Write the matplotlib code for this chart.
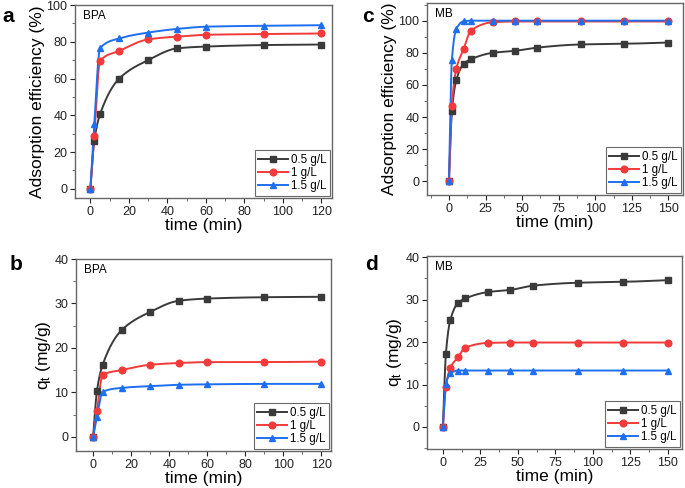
import numpy as np
import matplotlib
matplotlib.use("Agg")
import matplotlib.pyplot as plt
from matplotlib.ticker import MultipleLocator, AutoMinorLocator

plt.rcParams['font.family'] = ['Liberation Sans', 'DejaVu Sans']
plt.rcParams['mathtext.fontset'] = 'custom'
plt.rcParams['mathtext.rm'] = 'Liberation Sans'
plt.rcParams['mathtext.it'] = 'Liberation Sans'

# ---- data ----
labels = ["0.5 g/L", "1 g/L", "1.5 g/L"]
colors = ["#3a3a3a", "#f23a3a", "#1e6ff0"]
markers = ["s", "o", "^"]

t_bpa = [0, 2, 5, 15, 30, 45, 60, 90, 120]
eff_bpa_05 = [0, 26, 40.5, 60, 70, 76.4, 77.4, 78.2, 78.5]
eff_bpa_1 = [0, 28.6, 69.5, 75, 81.3, 82.8, 83.8, 84.2, 84.5]
eff_bpa_15 = [0, 35, 76.4, 81.8, 85, 87, 88.2, 88.7, 89]

t_mb = [0, 2, 5, 10, 15, 30, 45, 60, 90, 120, 150]
eff_mb_05 = [0, 43.5, 63, 73, 76, 80, 81.2, 83.2, 85.2, 85.6, 86.4]
eff_mb_1 = [0, 47.2, 70, 82.2, 93.8, 99, 99.5, 99.5, 99.5, 99.5, 99.5]
eff_mb_15 = [0, 75.6, 94.8, 99.6, 100, 100, 100, 100, 100, 100, 100]

qt_bpa_05 = [0, 10.3, 16.2, 24, 28.1, 30.6, 31.1, 31.4, 31.5]
qt_bpa_1 = [0, 5.8, 13.9, 15, 16.2, 16.6, 16.8, 16.8, 16.9]
qt_bpa_15 = [0, 4.5, 10.1, 11, 11.4, 11.7, 11.8, 11.9, 11.9]

qt_mb_05 = [0, 17.3, 25.3, 29.2, 30.3, 31.8, 32.3, 33.3, 34.0, 34.2, 34.6]
qt_mb_1 = [0, 9.5, 14, 16.4, 18.7, 19.8, 19.9, 19.9, 19.9, 19.9, 19.9]
qt_mb_15 = [0, 10.1, 12.6, 13.3, 13.3, 13.3, 13.3, 13.3, 13.3, 13.3, 13.3]


def pchip(x, y, xn):
    x = np.asarray(x, float); y = np.asarray(y, float)
    h = np.diff(x); d = np.diff(y) / h
    n = len(x); m = np.zeros(n)
    for k in range(1, n - 1):
        if d[k - 1] * d[k] > 0:
            w1 = 2 * h[k] + h[k - 1]; w2 = h[k] + 2 * h[k - 1]
            m[k] = (w1 + w2) / (w1 / d[k - 1] + w2 / d[k])
    m[0] = d[0]; m[-1] = d[-1]
    idx = np.clip(np.searchsorted(x, xn) - 1, 0, n - 2)
    hh = h[idx]; s = (xn - x[idx]) / hh
    h00 = 2 * s**3 - 3 * s**2 + 1; h10 = s**3 - 2 * s**2 + s
    h01 = -2 * s**3 + 3 * s**2; h11 = s**3 - s**2
    return h00 * y[idx] + h10 * hh * m[idx] + h01 * y[idx + 1] + h11 * hh * m[idx + 1]


fig = plt.figure(figsize=(6.85, 4.88), dpi=100)
W, H = 685, 488

def make_ax(l, r, t, b):
    return fig.add_axes([l / W, 1 - b / H, (r - l) / W, (b - t) / H])

panels = [
    dict(box=(75, 332, 5, 198), t=t_bpa, ys=[eff_bpa_05, eff_bpa_1, eff_bpa_15],
         xlim=(-8, 125.5), ylim=(-5, 100), xmaj=20, ymaj=20, name="BPA",
         ylabel="Adsorption efficiency (%)", letter="a", lpos=(2, 16)),
    dict(box=(427, 683, 3, 195), t=t_mb, ys=[eff_mb_05, eff_mb_1, eff_mb_15],
         xlim=(-15, 160), ylim=(-8.5, 111), xmaj=25, ymaj=20, name="MB",
         ylabel="Adsorption efficiency (%)", letter="c", lpos=(362, 16)),
    dict(box=(76, 331, 259, 451), t=t_bpa, ys=[qt_bpa_05, qt_bpa_1, qt_bpa_15],
         xlim=(-9, 125), ylim=(-3.2, 40), xmaj=20, ymaj=10, name="BPA",
         ylabel="q$_{t}$ (mg/g)", letter="b", lpos=(10, 265)),
    dict(box=(427, 682, 256, 449), t=t_mb, ys=[qt_mb_05, qt_mb_1, qt_mb_15],
         xlim=(-10.6, 159.4), ylim=(-5.2, 40.3), xmaj=25, ymaj=10, name="MB",
         ylabel="q$_{t}$ (mg/g)", letter="d", lpos=(365, 265)),
]

for p in panels:
    ax = make_ax(*p["box"])
    tt = np.asarray(p["t"], float)
    xs = np.linspace(tt[0], tt[-1], 600)
    for y, c, mk, lab in zip(p["ys"], colors, markers, labels):
        ax.plot(xs, pchip(tt, y, xs), color=c, lw=1.4, zorder=2)
        ax.plot(tt, y, linestyle="none", marker=mk, color=c, ms=4.8, zorder=3)
        ax.plot([], [], color=c, marker=mk, ms=4.8, lw=1.4, label=lab)
    ax.set_xlim(*p["xlim"]); ax.set_ylim(*p["ylim"])
    ax.xaxis.set_major_locator(MultipleLocator(p["xmaj"]))
    ax.xaxis.set_minor_locator(AutoMinorLocator(2))
    ax.yaxis.set_major_locator(MultipleLocator(p["ymaj"]))
    ax.yaxis.set_minor_locator(AutoMinorLocator(2))
    ax.tick_params(which="major", direction="out", length=3.5, width=0.8,
                   labelsize=9, colors="#222222", pad=2)
    ax.tick_params(which="minor", direction="out", length=2, width=0.6, colors="#555555")
    for s in ax.spines.values():
        s.set_color("#666666"); s.set_linewidth(1.0)
    ax.set_xlabel("time (min)", fontsize=12.5, labelpad=0)
    ax.set_ylabel(p["ylabel"], fontsize=12.5, labelpad=1)
    ax.text(0.03, 0.975, p["name"], transform=ax.transAxes, fontsize=8.5,
            va="top", ha="left")
    leg = ax.legend(loc="lower right", fontsize=8.3, handlelength=2.6,
                    frameon=True, fancybox=False, borderpad=0.3,
                    labelspacing=0.1, handletextpad=0.2, borderaxespad=0.2)
    leg.get_frame().set_edgecolor("#444444"); leg.get_frame().set_linewidth(0.8)
    fig.text(p["lpos"][0] / W, 1 - p["lpos"][1] / H, p["letter"],
             fontsize=15, fontweight="bold", ha="left", va="center")

fig.savefig("out.png", dpi=100)
